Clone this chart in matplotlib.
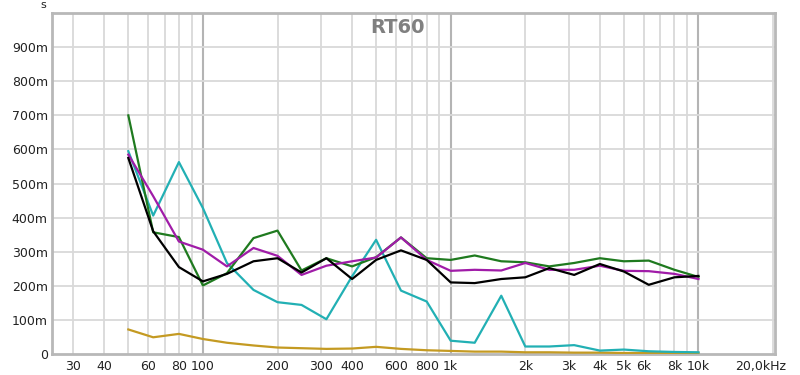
import numpy as np
import matplotlib
matplotlib.use('Agg')
import matplotlib.pyplot as plt
from matplotlib.transforms import ScaledTranslation

# frecuencias en tercios de octava (Hz)
freqs = [50, 63, 80, 100, 125, 160, 200, 250, 315, 400, 500, 630, 800,
         1000, 1250, 1600, 2000, 2500, 3150, 4000, 5000, 6300, 8000, 10000]

# RT60, en ms
green = [700, 357, 343, 201, 237, 340, 362, 245, 281, 257, 284, 342, 281,
         276, 289, 272, 269, 257, 267, 281, 272, 274, 247, 226]
cyan = [595, 406, 563, 428, 267, 188, 152, 144, 102, 228, 335, 186, 154,
        39, 33, 171, 22, 22, 26, 10, 13, 8, 6, 5]
black = [575, 360, 255, 213, 235, 272, 281, 239, 281, 220, 276, 304, 276,
         210, 208, 220, 225, 252, 232, 264, 242, 203, 225, 229]
magenta = [585, 463, 330, 306, 257, 311, 288, 232, 259, 272, 283, 342, 276,
           244, 247, 245, 267, 247, 247, 259, 244, 243, 235, 220]
gold = [72, 49, 59, 44, 33, 25, 19, 17, 15, 16, 21, 15, 11,
        9, 7, 7, 5, 5, 4, 4, 3, 3, 3, 3]

series = [
    (gold, '#c49a22'),
    (cyan, '#22b0b4'),
    (green, '#1f7a1f'),
    (magenta, '#a01ca8'),
    (black, '#000000'),
]

xticks = [30, 40, 60, 80, 100, 200, 300, 400, 600, 800, 1000,
          2000, 3000, 4000, 5000, 6000, 8000, 10000, 20000]
xlabels = ['30', '40', '60', '80', '100', '200', '300', '400', '600', '800', '1k',
           '2k', '3k', '4k', '5k', '6k', '8k', '10k', '20,0kHz']
yticks = [0, 0.1, 0.2, 0.3, 0.4, 0.5, 0.6, 0.7, 0.8, 0.9]
ylabels = ['0', '100m', '200m', '300m', '400m', '500m', '600m', '700m', '800m', '900m']

fig = plt.figure(figsize=(8, 3.75), dpi=100)
ax = fig.add_axes([0.065, 0.056, 0.904, 0.909])

ax.set_xscale('log')
ax.set_xlim(24.6, 20400)
ax.set_ylim(0, 1.0)

# rejilla
minor_lines = [m * 10 ** d for d in range(1, 5) for m in range(2, 10)]
for f in minor_lines:
    if 24.6 < f < 20400:
        ax.axvline(f, color='#d9d9d9', lw=1.3, zorder=0)
for f in [100, 1000, 10000]:
    ax.axvline(f, color='#b4b4b4', lw=1.5, zorder=0)
for y in yticks[1:]:
    ax.axhline(y, color='#d9d9d9', lw=1.3, zorder=0)

for vals, col in series:
    ax.plot(freqs, np.array(vals) / 1000.0, color=col, lw=1.6, zorder=3)

ax.set_xticks(xticks)
ax.set_xticklabels(xlabels)
ax.xaxis.set_minor_locator(matplotlib.ticker.NullLocator())
ax.set_yticks(yticks)
ax.set_yticklabels(ylabels)
ax.tick_params(axis='both', length=0, labelsize=9, colors='#222222', pad=4)
ax.tick_params(axis='y', pad=3)

# la etiqueta de 20 kHz va algo desplazada a la izquierda
last = ax.get_xticklabels()[-1]
last.set_transform(last.get_transform() + ScaledTranslation(-12 / 100, 0, fig.dpi_scale_trans))

for s in ax.spines.values():
    s.set_color('#b8b8b8')
    s.set_linewidth(2)

ax.text(0.478, 0.985, 'RT60', transform=ax.transAxes, ha='center', va='top',
        fontsize=14, fontweight='bold', color='#808080')
fig.text(43 / 800, 1 - 5 / 375, 's', ha='center', va='center', fontsize=8, color='#222222')

fig.savefig('out.png', dpi=100)
